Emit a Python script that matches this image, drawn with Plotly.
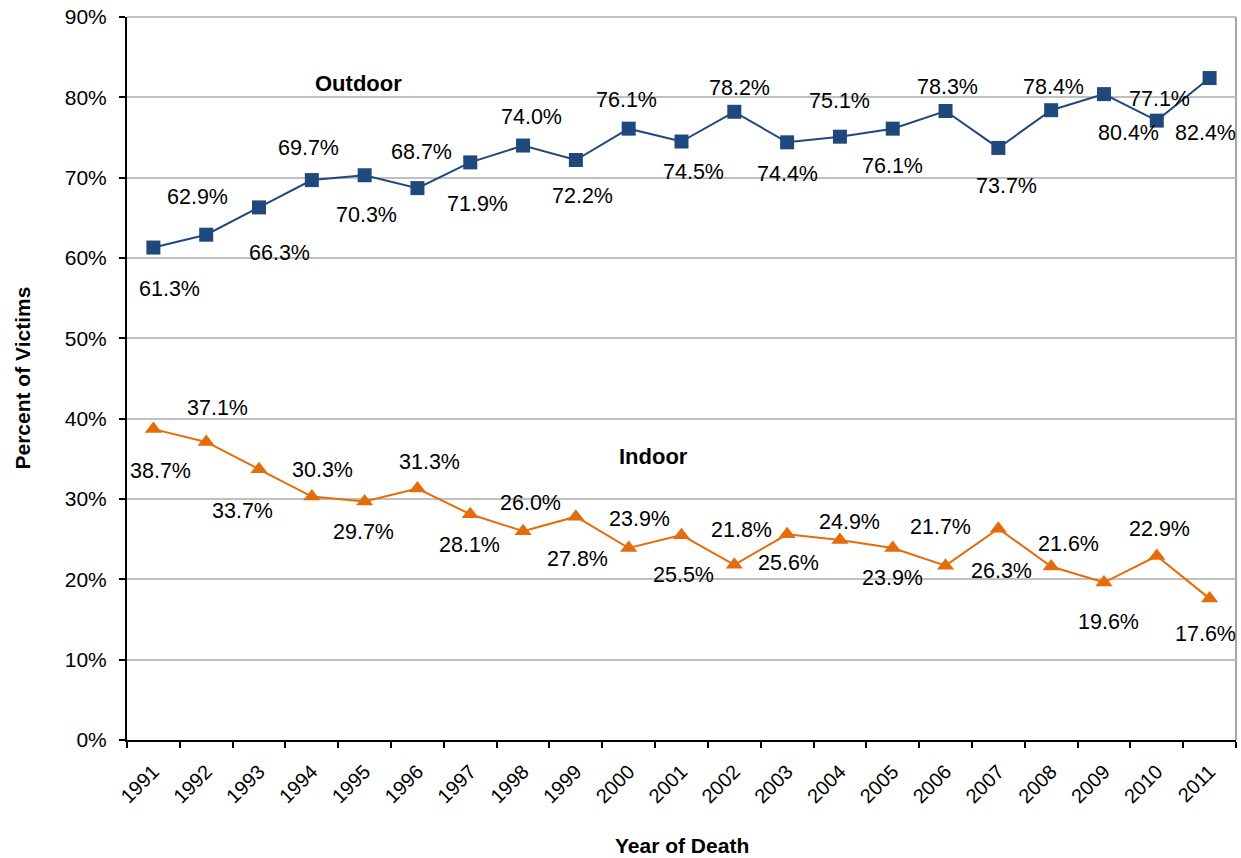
import plotly.graph_objects as go

years = [str(y) for y in range(1991, 2012)]
outdoor = [61.3, 62.9, 66.3, 69.7, 70.3, 68.7, 71.9, 74.0, 72.2, 76.1, 74.5,
           78.2, 74.4, 75.1, 76.1, 78.3, 73.7, 78.4, 80.4, 77.1, 82.4]
indoor = [38.7, 37.1, 33.7, 30.3, 29.7, 31.3, 28.1, 26.0, 27.8, 23.9, 25.5,
          21.8, 25.6, 24.9, 23.9, 21.7, 26.3, 21.6, 19.6, 22.9, 17.6]
y_ticks = list(range(0, 91, 10))
y_tick_text = [f"{t}%" for t in y_ticks]

# hand-placed data-label nudges (pixels; dx right, dy down), as in the original chart
outdoor_label_dx = [16, -9, 20, -3, 2, 4, 7, 8, 7, -2, 12, 5, 0, 0, 0, 2, 8, 2, 25, 3, -4]
outdoor_label_dy = [41, -38, 46, -32, 40, -36, 42, -29, 36, -29, 30, -24, 32, -36, 37, -24, 38, -23, 39, -22, 55]
indoor_label_dx = [7, 11, -17, 11, -1, 12, -1, 7, 2, 11, 2, 7, 1, 10, 0, -5, 3, 17, 5, 3, -4]
indoor_label_dy = [42, -34, 42, -27, 31, -27, 31, -28, 42, -29, 40, -35, 29, -18, 30, -39, 42, -22, 39, -27, 35]

BLUE = "#1F497D"
ORANGE = "#E46C0A"
FONT = "Arial, Liberation Sans, sans-serif"

fig = go.Figure()
fig.add_trace(go.Scatter(x=years, y=outdoor, mode="lines+markers", name="Outdoor",
                         line=dict(color=BLUE, width=2),
                         marker=dict(symbol="square", size=14, color=BLUE)))
fig.add_trace(go.Scatter(x=years, y=indoor, mode="lines+markers", name="Indoor",
                         line=dict(color=ORANGE, width=2),
                         marker=dict(symbol="triangle-up", size=15, color=ORANGE)))

annotations = []
for series, dxs, dys in ((outdoor, outdoor_label_dx, outdoor_label_dy),
                         (indoor, indoor_label_dx, indoor_label_dy)):
    for i, v in enumerate(series):
        annotations.append(dict(x=i, y=v, xref="x", yref="y", text=f"{v:.1f}%",
                                showarrow=False, xanchor="center", yanchor="middle",
                                xshift=dxs[i], yshift=-dys[i],
                                font=dict(family=FONT, size=21.5, color="black")))

annotations += [
    dict(x=0.2083, y=0.9087, xref="paper", yref="paper", text="<b>Outdoor</b>",
         showarrow=False, xanchor="center", yanchor="middle",
         font=dict(family=FONT, size=22, color="black")),
    dict(x=0.4752, y=0.3928, xref="paper", yref="paper", text="<b>Indoor</b>",
         showarrow=False, xanchor="center", yanchor="middle",
         font=dict(family=FONT, size=22, color="black")),
    dict(x=0.5, y=0, xref="paper", yref="paper", text="<b>Year of Death</b>",
         showarrow=False, xanchor="center", yanchor="middle", yshift=-105,
         font=dict(family=FONT, size=21, color="black")),
    dict(x=0, y=0.5, xref="paper", yref="paper", text="<b>Percent of Victims</b>",
         showarrow=False, xanchor="center", yanchor="middle", xshift=-105, textangle=-90,
         font=dict(family=FONT, size=21, color="black")),
]

fig.update_layout(
    width=1241, height=858,
    margin=dict(l=127, r=5, t=17, b=118),
    paper_bgcolor="white", plot_bgcolor="white",
    showlegend=False,
    font=dict(family=FONT, size=20, color="black"),
    annotations=annotations,
    shapes=[
        dict(type="line", xref="paper", yref="paper", x0=1, x1=1, y0=0, y1=1,
             line=dict(color="#A6A6A6", width=2), layer="below"),
        dict(type="line", xref="paper", yref="paper", x0=0, x1=1, y0=1, y1=1,
             line=dict(color="#C0C0C0", width=2), layer="below"),
    ],
)
fig.update_xaxes(
    type="category", range=[-0.5, 20.5], tickangle=-45, automargin=False,
    tickson="boundaries", ticks="outside", ticklen=6, tickwidth=2, tickcolor="black",
    showline=True, linecolor="black", linewidth=2, showgrid=False,
    ticklabelstandoff=10, ticklabeloverflow="allow",
    tickfont=dict(family=FONT, size=20, color="black"),
)
fig.update_yaxes(
    range=[0, 90], tickvals=y_ticks, ticktext=y_tick_text, automargin=False,
    ticks="outside", ticklen=6, tickwidth=2, tickcolor="black",
    showline=True, linecolor="black", linewidth=2, ticklabelstandoff=8,
    ticklabeloverflow="allow",
    showgrid=True, gridcolor="#C0C0C0", gridwidth=2, zeroline=False,
    tickfont=dict(family=FONT, size=21, color="black"),
)

# remove the browser's default 8px body margin so the figure fills the window exactly
fig.write_html("out.html",
               config={"displayModeBar": False},
               post_script="document.body.style.margin='0';document.body.style.overflow='hidden';")
